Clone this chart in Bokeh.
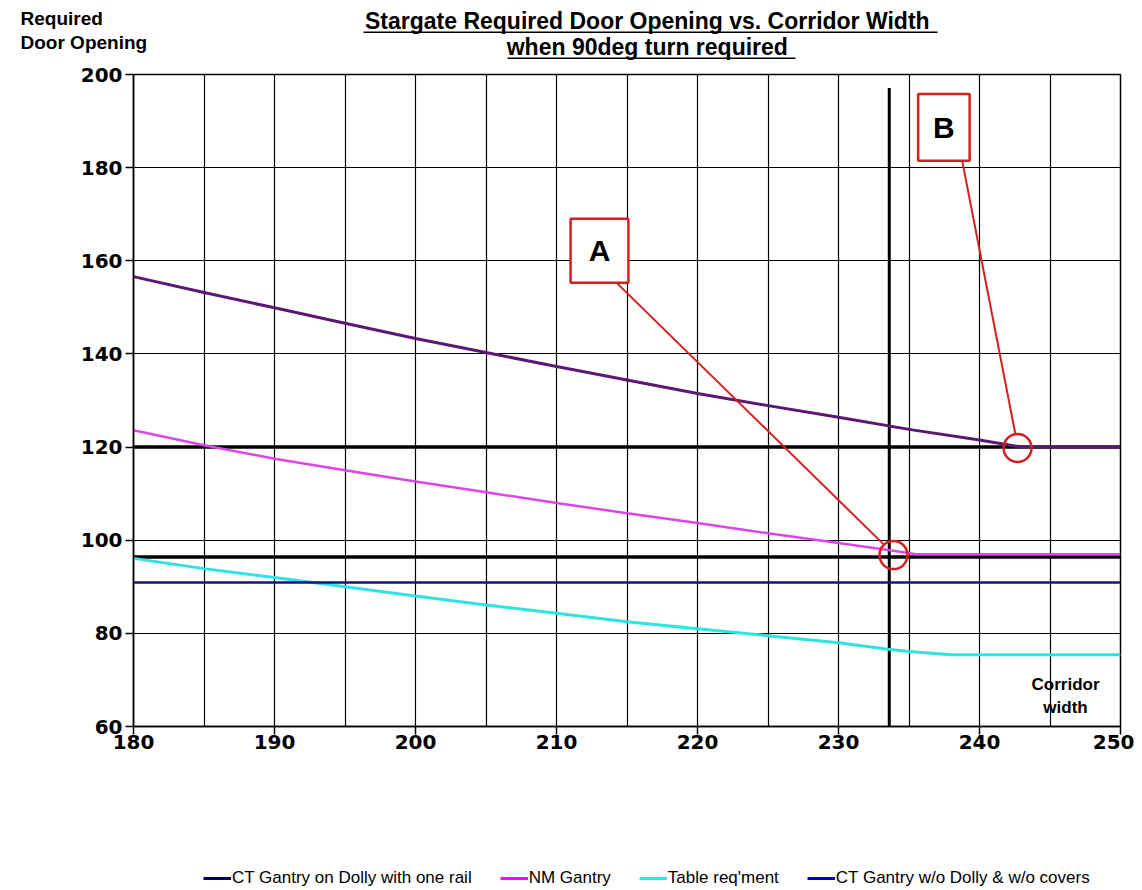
from bokeh.plotting import figure
from bokeh.models import (Range1d, FixedTicker, Label, BoxAnnotation, Legend, LegendItem,
                          ColumnDataSource)
from bokeh.embed import file_html
from bokeh.resources import INLINE

# ---------------- data ----------------
corridor = [180, 185, 190, 195, 200, 205, 210, 215, 220, 225, 230, 235, 240, 243, 245, 250]
ct_dolly = [156.6, 153.2, 149.9, 146.6, 143.3, 140.3, 137.3, 134.4, 131.5, 128.9, 126.4, 123.8, 121.5, 120.0, 120.0, 120.0]

corridor_nm = [180, 185, 190, 195, 200, 205, 210, 215, 220, 225, 230, 234, 235.5, 240, 245, 250]
nm_gantry = [123.6, 120.4, 117.5, 115.0, 112.6, 110.3, 108.0, 105.8, 103.7, 101.5, 99.4, 97.7, 97.0, 97.0, 97.0, 97.0]

corridor_tb = [180, 185, 190, 195, 200, 205, 210, 215, 220, 225, 230, 233.5, 235, 238, 240, 245, 250]
table_req = [96.1, 93.9, 92.0, 90.0, 88.0, 86.1, 84.3, 82.5, 81.0, 79.5, 78.0, 76.6, 76.1, 75.4, 75.4, 75.4, 75.4]

corridor_flat = [180, 250]
ct_no_dolly = [90.9, 90.9]

door_limits = [120.0, 96.4]
corridor_limit = 233.6
corridor_limit_top = 197.1

x_ticks = [180, 190, 200, 210, 220, 230, 240, 250]
y_ticks = [60, 80, 100, 120, 140, 160, 180, 200]

series_names = ["CT Gantry on Dolly with one rail", "NM Gantry", "Table req'ment",
                "CT Gantry w/o Dolly & w/o covers"]
title_lines = ["Stargate Required Door Opening vs. Corridor Width ", "when 90deg turn required "]
y_title_lines = ["Required", "Door Opening"]

NARROW = "Liberation Sans Narrow, Liberation Sans"
W = 1134

# ---------------- header (titles) ----------------
HH = 63
head = figure(width=W, height=HH, output_backend="svg", toolbar_location=None,
              x_range=Range1d(0, W), y_range=Range1d(HH, 0),
              x_axis_type=None, y_axis_type=None, min_border=0)
head.outline_line_color = None
head.add_layout(Label(x=20, y=18, text=y_title_lines[0], text_align="left", text_baseline="middle",
                      text_font=NARROW, text_font_style="bold", text_font_size="19px",
                      text_color="black"))
head.add_layout(Label(x=20, y=42, text=y_title_lines[1], text_align="left", text_baseline="middle",
                      text_font=NARROW, text_font_style="bold", text_font_size="19px",
                      text_color="black"))
head.add_layout(Label(x=650, y=20, text=title_lines[0], text_align="center", text_baseline="middle",
                      text_font=NARROW, text_font_style="bold", text_font_size="23px",
                      text_color="black"))
head.add_layout(Label(x=650, y=46, text=title_lines[1], text_align="center", text_baseline="middle",
                      text_font=NARROW, text_font_style="bold", text_font_size="23px",
                      text_color="black"))
head.add_layout(BoxAnnotation(left=363, right=937, top=31, bottom=32.5, fill_color="black",
                              fill_alpha=1, line_color=None))
head.add_layout(BoxAnnotation(left=507, right=795, top=57, bottom=58.5, fill_color="black",
                              fill_alpha=1, line_color=None))

# ---------------- main figure ----------------
p = figure(width=W, height=703, output_backend="svg", toolbar_location=None,
           x_range=Range1d(180, 250), y_range=Range1d(60, 200),
           frame_width=987, frame_height=652,
           min_border_left=133, min_border_right=14, min_border_top=11, min_border_bottom=40)
p.background_fill_color = "white"
p.border_fill_color = "white"
p.outline_line_color = "black"
p.outline_line_width = 1.5

for ax in (p.xaxis[0], p.yaxis[0]):
    ax.axis_line_color = "black"
    ax.axis_line_width = 1.5
    ax.major_tick_line_color = "black"
    ax.major_tick_line_width = 1.5
    ax.major_tick_out = 8
    ax.major_tick_in = 0
    ax.minor_tick_line_color = None
    ax.major_label_text_font = "DejaVu Sans"
    ax.major_label_text_font_style = "bold"
    ax.major_label_text_font_size = "20px"
    ax.major_label_text_color = "black"
p.xaxis.ticker = FixedTicker(ticks=x_ticks)
p.yaxis.ticker = FixedTicker(ticks=y_ticks)
p.xaxis.major_label_standoff = 0
p.yaxis.major_label_standoff = 3

p.xgrid.ticker = FixedTicker(ticks=list(range(180, 251, 5)))
p.ygrid.ticker = FixedTicker(ticks=y_ticks)
for g in (p.xgrid[0], p.ygrid[0]):
    g.grid_line_color = "black"
    g.grid_line_alpha = 1.0
    g.grid_line_width = 1.2

# reference lines
for lvl in door_limits:
    p.line([180, 250], [lvl, lvl], line_color="black", line_width=3.5)
p.line([corridor_limit, corridor_limit], [60, corridor_limit_top], line_color="black", line_width=3)

# series
p.line(corridor_tb, table_req, line_color="#2EE3E3", line_width=3)
p.line(corridor_flat, ct_no_dolly, line_color="#141480", line_width=2.5)
p.line(corridor_nm, nm_gantry, line_color="#DC46E6", line_width=2.5)
p.line(corridor, ct_dolly, line_color="#5A1870", line_width=3)

# ---------------- annotations ----------------
RED = "#D42020"
p.line([214.32, 233.24], [155.1, 99.0], line_color=RED, line_width=2)
p.line([238.77, 242.55], [181.5, 122.7], line_color=RED, line_width=2)
p.scatter([233.9, 242.7], [96.8, 119.8], size=28, marker="circle",
          fill_color=None, line_color=RED, line_width=2.5)
for (l, r, b, t, txt) in [(211.0, 215.1, 155.3, 169.0, "A"), (235.65, 239.3, 181.5, 195.8, "B")]:
    p.add_layout(BoxAnnotation(left=l, right=r, bottom=b, top=t, fill_color="white", fill_alpha=1,
                               line_color=RED, line_width=2.5, line_alpha=1, level="annotation"))
    p.add_layout(Label(x=(l + r) / 2, y=(b + t) / 2, text=txt, text_align="center",
                       text_baseline="middle", text_font="Liberation Sans", level="overlay",
                       text_font_style="bold", text_font_size="30px", text_color="black"))

p.add_layout(Label(x=246.1, y=66.6, text="Corridor\nwidth", text_align="center",
                   text_baseline="middle", text_font="Liberation Sans",
                   text_font_style="bold", text_font_size="17px", text_color="black"))

# ---------------- legend strip ----------------
LH = 122
lg = figure(width=W, height=LH, output_backend="svg", toolbar_location=None,
            x_range=Range1d(0, W), y_range=Range1d(0, LH),
            x_axis_type=None, y_axis_type=None, min_border=0)
lg.outline_line_color = None
leg_colors = ["#000066", "#FF00FF", "#33E6E6", "#0000CC"]
nan = float("nan")
items = []
for name, c in zip(series_names, leg_colors):
    r = lg.line(x="x", y="y", source=ColumnDataSource(dict(x=[nan, nan], y=[nan, nan])),
                line_color=c, line_width=3)
    items.append(LegendItem(label=name, renderers=[r]))
legend = Legend(items=items, orientation="horizontal", location=(203, 0),
                glyph_width=28, glyph_height=16, label_height=16, label_standoff=1, spacing=28,
                padding=0, margin=0, border_line_color=None, background_fill_alpha=0,
                label_text_font=NARROW, label_text_font_size="17px", label_text_color="black")
lg.add_layout(legend, "center")

open("out.html", "w").write(file_html([head, p, lg], INLINE))
